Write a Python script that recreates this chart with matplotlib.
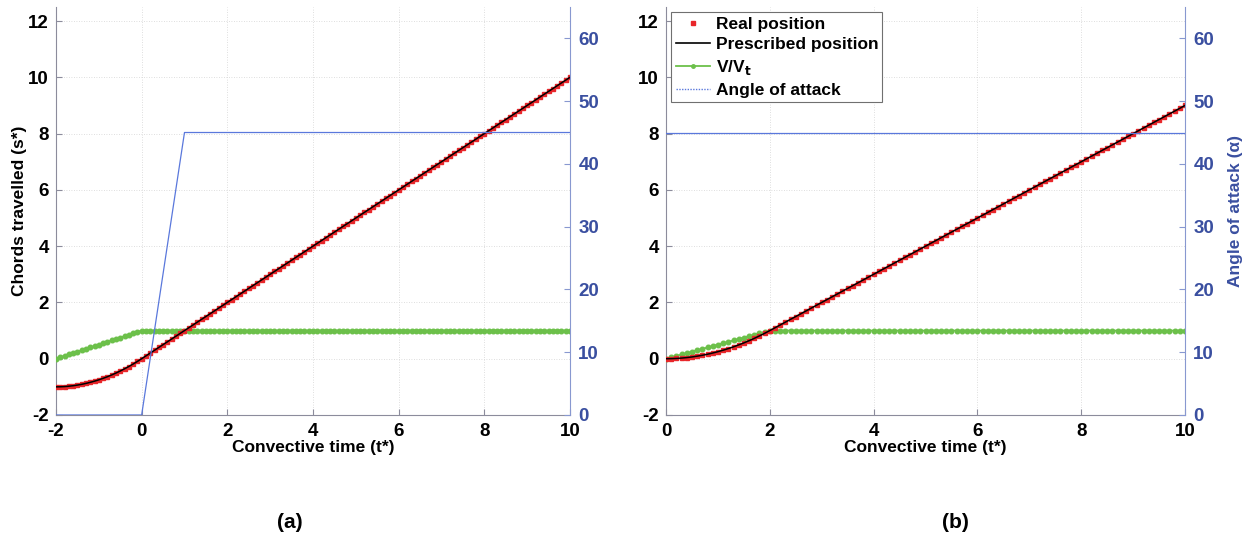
import numpy as np
import matplotlib.pyplot as plt
from matplotlib.lines import Line2D

plt.rcParams['font.family'] = ['Liberation Sans', 'DejaVu Sans']
plt.rcParams['font.weight'] = 'bold'
plt.rcParams['font.size'] = 12
plt.rcParams['axes.unicode_minus'] = False

# --- dane panel (a) ---
time_a = np.round(np.arange(-2.0, 10.01, 0.1), 1)
pos_a = [-1.0, -0.9975, -0.99, -0.9775, -0.96, -0.9375, -0.91, -0.8775, -0.84, -0.7975,
         -0.75, -0.6975, -0.64, -0.5775, -0.51, -0.4375, -0.36, -0.2775, -0.19, -0.0975,
         0.0,
         0.1, 0.2, 0.3, 0.4, 0.5, 0.6, 0.7, 0.8, 0.9, 1.0,
         1.1, 1.2, 1.3, 1.4, 1.5, 1.6, 1.7, 1.8, 1.9, 2.0,
         2.1, 2.2, 2.3, 2.4, 2.5, 2.6, 2.7, 2.8, 2.9, 3.0,
         3.1, 3.2, 3.3, 3.4, 3.5, 3.6, 3.7, 3.8, 3.9, 4.0,
         4.1, 4.2, 4.3, 4.4, 4.5, 4.6, 4.7, 4.8, 4.9, 5.0,
         5.1, 5.2, 5.3, 5.4, 5.5, 5.6, 5.7, 5.8, 5.9, 6.0,
         6.1, 6.2, 6.3, 6.4, 6.5, 6.6, 6.7, 6.8, 6.9, 7.0,
         7.1, 7.2, 7.3, 7.4, 7.5, 7.6, 7.7, 7.8, 7.9, 8.0,
         8.1, 8.2, 8.3, 8.4, 8.5, 8.6, 8.7, 8.8, 8.9, 9.0,
         9.1, 9.2, 9.3, 9.4, 9.5, 9.6, 9.7, 9.8, 9.9, 10.0]
vel_a = [0.0, 0.05, 0.1, 0.15, 0.2, 0.25, 0.3, 0.35, 0.4, 0.45,
         0.5, 0.55, 0.6, 0.65, 0.7, 0.75, 0.8, 0.85, 0.9, 0.95,
         1.0] + [1.0] * 100
aoa_time_a = [-2.0, 0.0, 1.0, 10.0]
aoa_a = [0.0, 0.0, 45.0, 45.0]

# --- dane panel (b) ---
time_b = np.round(np.arange(0.0, 10.01, 0.1), 1)
pos_b = [0.0, 0.0025, 0.01, 0.0225, 0.04, 0.0625, 0.09, 0.1225, 0.16, 0.2025,
         0.25, 0.3025, 0.36, 0.4225, 0.49, 0.5625, 0.64, 0.7225, 0.81, 0.9025,
         1.0,
         1.1, 1.2, 1.3, 1.4, 1.5, 1.6, 1.7, 1.8, 1.9, 2.0,
         2.1, 2.2, 2.3, 2.4, 2.5, 2.6, 2.7, 2.8, 2.9, 3.0,
         3.1, 3.2, 3.3, 3.4, 3.5, 3.6, 3.7, 3.8, 3.9, 4.0,
         4.1, 4.2, 4.3, 4.4, 4.5, 4.6, 4.7, 4.8, 4.9, 5.0,
         5.1, 5.2, 5.3, 5.4, 5.5, 5.6, 5.7, 5.8, 5.9, 6.0,
         6.1, 6.2, 6.3, 6.4, 6.5, 6.6, 6.7, 6.8, 6.9, 7.0,
         7.1, 7.2, 7.3, 7.4, 7.5, 7.6, 7.7, 7.8, 7.9, 8.0,
         8.1, 8.2, 8.3, 8.4, 8.5, 8.6, 8.7, 8.8, 8.9, 9.0]
vel_b = [0.0, 0.05, 0.1, 0.15, 0.2, 0.25, 0.3, 0.35, 0.4, 0.45,
         0.5, 0.55, 0.6, 0.65, 0.7, 0.75, 0.8, 0.85, 0.9, 0.95,
         1.0] + [1.0] * 80
aoa_time_b = [0.0, 10.0]
aoa_b = [45.0, 45.0]

RED = '#e8262a'
GREEN = '#6cc04a'
BLUE = '#5a78dc'
BLUE_TXT = '#3a4fa0'

fig = plt.figure(figsize=(12.44, 5.4), dpi=100)


def make_panel(rect, t, pos, vel, aoa_t, aoa, xlim, right_label):
    ax = fig.add_axes(rect)
    ax2 = ax.twinx()
    ax.plot(t, vel, color=GREEN, lw=1.3, marker='o', ms=3.3, mec=GREEN, zorder=3)
    ax.plot(t, pos, color=RED, lw=0, marker='s', ms=3.4, mec=RED, zorder=4)
    ax.plot(t, pos, color='black', lw=1.1, zorder=5)
    ax2.plot(aoa_t, aoa, color=BLUE, lw=0.9)

    ax.set_xlim(*xlim)
    ax.set_ylim(-2, 12.5)
    ax2.set_ylim(0, 65)
    ax.set_xticks(np.arange(xlim[0], xlim[1] + 0.1, 2))
    ax.set_yticks(np.arange(-2, 12.1, 2))
    ax2.set_yticks(np.arange(0, 61, 10))
    ax.grid(True, linestyle=(0, (1, 2)), color='#d4d4d4', lw=0.6)

    for a in (ax, ax2):
        a.spines['top'].set_visible(False)
    ax.spines['right'].set_visible(False)
    ax2.spines['left'].set_visible(False)
    ax2.spines['bottom'].set_visible(False)
    ax.spines['left'].set_color('#8c8c9c')
    ax.spines['bottom'].set_color('#8c8c9c')
    ax2.spines['right'].set_color('#8898d0')

    ax.tick_params(axis='x', direction='in', length=4, color='#8c8c9c', labelsize=13.5, pad=6)
    ax.tick_params(axis='y', direction='in', length=4, color='#8c8c9c', labelsize=13.5, pad=5)
    ax2.tick_params(direction='in', length=4, color='#8898d0', labelsize=13.5,
                    labelcolor=BLUE_TXT, pad=6)
    for lab in ax.get_xticklabels() + ax.get_yticklabels() + ax2.get_yticklabels():
        lab.set_fontweight('bold')

    ax.set_xlabel('Convective time (t*)', fontweight='bold', fontsize=12.5, labelpad=0)
    if right_label:
        ax2.set_ylabel('Angle of attack (\u03b1)', color=BLUE_TXT, fontweight='bold',
                       fontsize=12.5, labelpad=10)
    return ax, ax2


ax_a, ax_a2 = make_panel([0.045, 0.2315, 0.4132, 0.7556], time_a, pos_a, vel_a,
                         aoa_time_a, aoa_a, (-2, 10), False)
ax_a.set_ylabel('Chords travelled (s*)', fontweight='bold', fontsize=12.5, labelpad=1)

ax_b, ax_b2 = make_panel([0.5354, 0.2315, 0.4172, 0.7556], time_b, pos_b, vel_b,
                         aoa_time_b, aoa_b, (0, 10), True)

handles = [
    Line2D([], [], color=RED, lw=0, marker='s', ms=3.4),
    Line2D([], [], color='black', lw=1.2),
    Line2D([], [], color=GREEN, lw=1.3, marker='o', ms=2.5),
    Line2D([], [], color=BLUE, lw=1.0, linestyle=(0, (1, 1))),
]
labels = ['Real position', 'Prescribed position', 'V/V$_\\mathbf{t}$', 'Angle of attack']
leg = ax_b2.legend(handles, labels, loc='upper left', bbox_to_anchor=(0.0, 1.0),
                   fancybox=False, framealpha=1, edgecolor='#707070',
                   handlelength=2.0, handletextpad=0.3, labelspacing=0.32,
                   borderpad=0.25, borderaxespad=0.3,
                   prop={'weight': 'bold', 'size': 12.5})
leg.get_frame().set_linewidth(0.8)

fig.text(0.233, 0.033, '(a)', ha='center', va='center', fontsize=15, fontweight='bold')
fig.text(0.768, 0.033, '(b)', ha='center', va='center', fontsize=15, fontweight='bold')

fig.savefig('out.png', dpi=100)
